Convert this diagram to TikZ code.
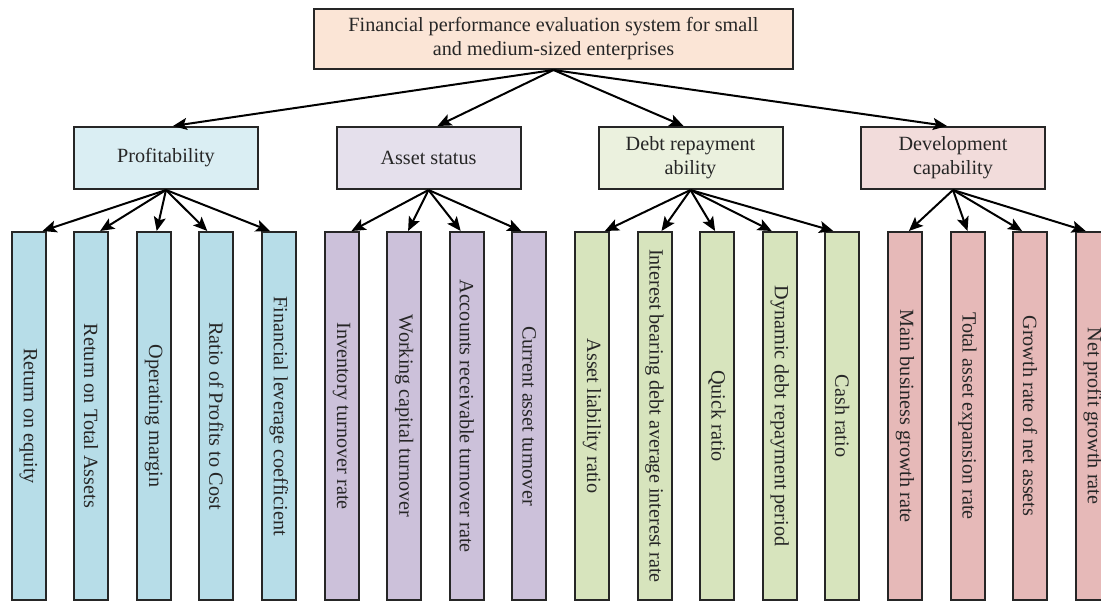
\documentclass[tikz,border=0pt]{standalone}
\usepackage{fontspec}
\setmainfont{Liberation Serif}
\usetikzlibrary{arrows.meta}
\definecolor{topfill}{RGB}{251,229,214}
\definecolor{blue1}{RGB}{218,238,243}
\definecolor{blue2}{RGB}{183,221,232}
\definecolor{purple1}{RGB}{229,224,236}
\definecolor{purple2}{RGB}{204,193,218}
\definecolor{green1}{RGB}{235,241,222}
\definecolor{green2}{RGB}{215,228,189}
\definecolor{red1}{RGB}{242,220,219}
\definecolor{red2}{RGB}{230,185,184}
\tikzset{
  box/.style={draw=black!85, line width=2pt, inner sep=0pt, align=center,
    font=\fontsize{20.2}{24}\selectfont, text=black!85},
  leaf/.style={box, minimum width=368pt, minimum height=34pt, rotate=-90},
  mid/.style={box, minimum width=184pt, minimum height=62pt},
  arr/.style={-{Stealth[length=14pt,width=12pt,inset=3pt]}, line width=2pt}
}

\begin{document}
\begin{tikzpicture}[x=1pt, y=1pt]
      \useasboundingbox (0,0) rectangle (1101,604);
      \clip (0,0) rectangle (1101,604);
      \node[box, fill=topfill, minimum width=479pt, minimum height=60pt] (sys) at (553.5,565)
        {Financial performance evaluation system for small\\and medium-sized enterprises};
      \node[mid, fill=blue1] (prof) at (166,446) {Profitability};
      \node[mid, fill=purple1] (asset) at (428.5,446) {Asset status};
      \node[mid, fill=green1] (debt) at (690.5,446) {Debt repayment\\ability};
      \node[mid, fill=red1] (dev) at (953,446) {Development\\capability};
      % indicators
      \foreach \i/\col/\txt in {1/blue2/Return on equity, 2/blue2/Return on Total Assets,
          3/blue2/Operating margin, 4/blue2/Ratio of Profits to Cost,
          5/blue2/Financial leverage coefficient, 6/purple2/Inventory turnover rate,
          7/purple2/Working capital turnover, 8/purple2/Accounts receivable turnover rate,
          9/purple2/Current asset turnover, 10/green2/Asset liability ratio,
          11/green2/Interest bearing debt average interest rate, 12/green2/Quick ratio,
          13/green2/Dynamic debt repayment period, 14/green2/Cash ratio,
          15/red2/Main business growth rate, 16/red2/Total asset expansion rate,
          17/red2/Growth rate of net assets, 18/red2/Net profit growth rate}
      \node[leaf, fill=\col] (l\i) at ({28.5+62.6*(\i-1)},188) {\txt};
      \foreach \p/\dx in {prof/7, asset/9, debt/-7, dev/-6}
      \draw[arr] (sys.south) -- ([xshift=\dx pt]\p.north);
      \foreach \p/\i/\dx in {prof/1/14, prof/2/9, prof/3/3, prof/4/-9, prof/5/-9,
          asset/6/10, asset/7/4, asset/8/-6, asset/9/-8,
          debt/10/13, debt/11/7, debt/12/-2, debt/13/-8, debt/14/-9,
          dev/15/4, dev/16/0, dev/17/-8, dev/18/-7}
      \draw[arr] (\p.south) -- ([xshift=\dx pt]l\i.west);
\end{tikzpicture}
\end{document}
